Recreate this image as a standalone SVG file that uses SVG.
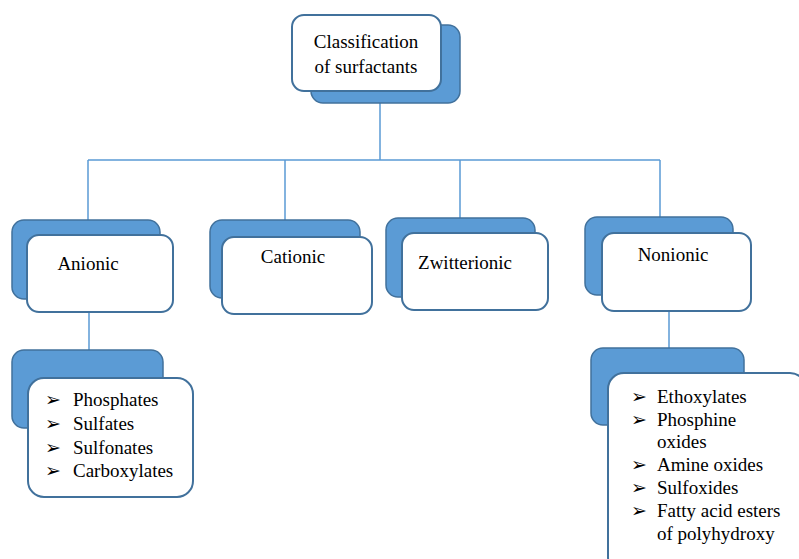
<svg xmlns="http://www.w3.org/2000/svg" width="799" height="559" viewBox="0 0 799 559">
<style>
.bg{fill:#ffffff}
.sh{fill:#5b9bd5;stroke:#41719c;stroke-width:1.5}
.bx{fill:#ffffff;stroke:#41719c;stroke-width:2}
.t{font-family:"Liberation Serif","Times New Roman",serif;font-size:19px;fill:#000}
.b{font-family:"DejaVu Sans",sans-serif;font-size:19px;fill:#000}
.c{fill:none;stroke:#5b9bd5;stroke-width:1.5}
</style>
<rect class="bg" x="0" y="0" width="799" height="559"/>
<g id="connectors">
<path class="c" d="M380,103 V160 M88,160 H660 M88,160 V235 M285,160 V237 M460,160 V233 M660,160 V233 M89,312 V350 M669,311 V348"/>
</g>
<g id="root">
<rect class="sh" x="311" y="25" width="149" height="78" rx="12"/>
<rect class="bx" x="292" y="15" width="149" height="76" rx="12"/>
<text class="t" x="366" y="48" text-anchor="middle">Classification</text>
<text class="t" x="366" y="73" text-anchor="middle">of surfactants</text>
</g>
<g id="anionic">
<rect class="sh" x="12" y="220" width="148" height="79" rx="12"/>
<rect class="bx" x="27" y="235" width="146" height="77" rx="12"/>
<text class="t" x="88" y="270" text-anchor="middle">Anionic</text>
</g>
<g id="cationic">
<rect class="sh" x="210" y="220" width="150" height="78" rx="12"/>
<rect class="bx" x="222" y="237" width="150" height="77" rx="12"/>
<text class="t" x="293" y="263" text-anchor="middle">Cationic</text>
</g>
<g id="zwitterionic">
<rect class="sh" x="386" y="218" width="149" height="79" rx="12"/>
<rect class="bx" x="402" y="233" width="146" height="77" rx="12"/>
<text class="t" x="465" y="269" text-anchor="middle">Zwitterionic</text>
</g>
<g id="nonionic">
<rect class="sh" x="585" y="217" width="148" height="78" rx="12"/>
<rect class="bx" x="602" y="233" width="149" height="78" rx="12"/>
<text class="t" x="673" y="261" text-anchor="middle">Nonionic</text>
</g>
<g id="anionic-list">
<rect class="sh" x="12" y="350" width="151" height="78" rx="12"/>
<rect class="bx" x="28" y="378" width="165" height="119" rx="16"/>
<text class="b" x="45" y="406">➢</text><text class="t" x="73" y="406">Phosphates</text>
<text class="b" x="45" y="430">➢</text><text class="t" x="73" y="430">Sulfates</text>
<text class="b" x="45" y="454">➢</text><text class="t" x="73" y="454">Sulfonates</text>
<text class="b" x="45" y="477">➢</text><text class="t" x="73" y="477">Carboxylates</text>
</g>
<g id="nonionic-list">
<rect class="sh" x="591" y="348" width="153" height="77" rx="12"/>
<rect class="bx" x="608" y="373" width="198" height="200" rx="16"/>
<text class="b" x="631" y="403">➢</text><text class="t" x="657" y="403">Ethoxylates</text>
<text class="b" x="631" y="426">➢</text><text class="t" x="657" y="426">Phosphine</text>
<text class="t" x="657" y="448">oxides</text>
<text class="b" x="631" y="471">➢</text><text class="t" x="657" y="471">Amine oxides</text>
<text class="b" x="631" y="494">➢</text><text class="t" x="657" y="494">Sulfoxides</text>
<text class="b" x="631" y="517">➢</text><text class="t" x="657" y="517">Fatty acid esters</text>
<text class="t" x="657" y="540">of polyhydroxy</text>
</g>
</svg>
